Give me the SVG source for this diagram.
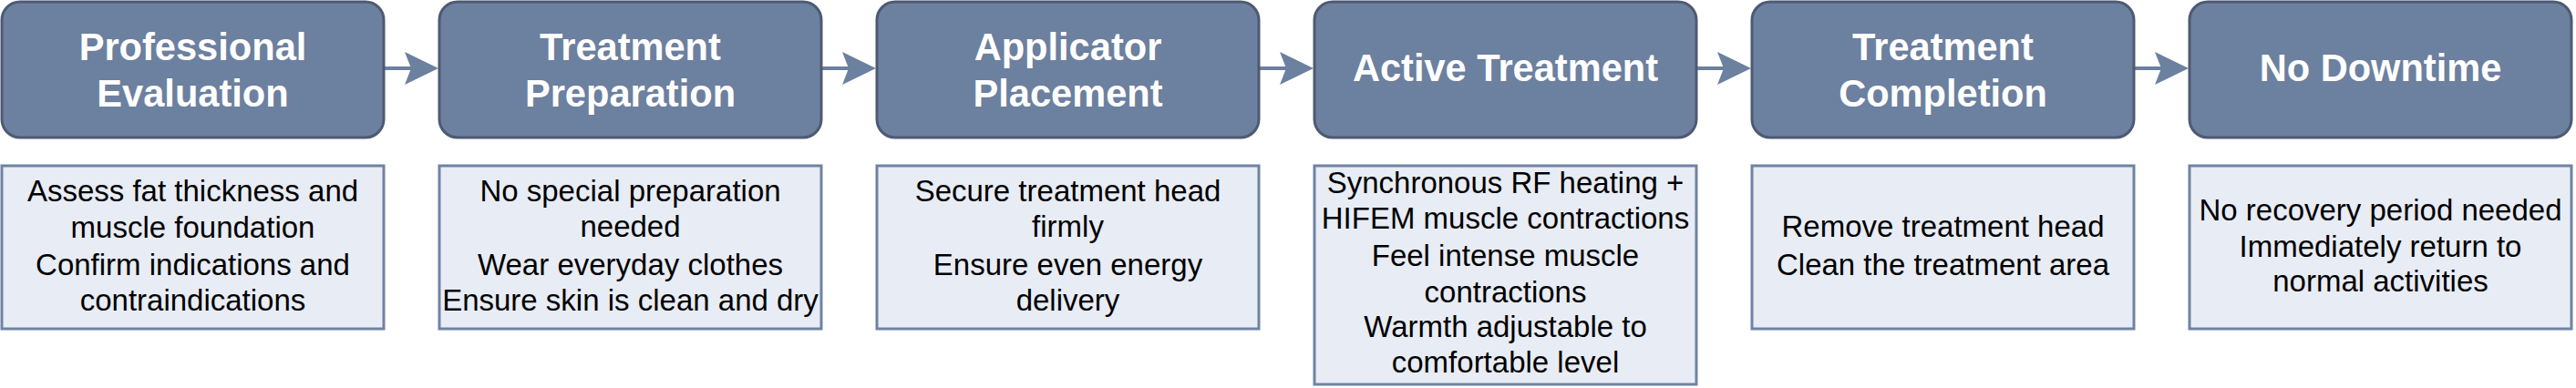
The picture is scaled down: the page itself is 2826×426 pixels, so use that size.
<svg xmlns="http://www.w3.org/2000/svg" width="2826" height="426" viewBox="0 0 2826 426">
<style>
.step{fill:#6c809f;stroke:#4e5a73;stroke-width:3}
.detail{fill:#e8ecf5;stroke:#6f83a3;stroke-width:3}
.t{font-family:"Liberation Sans",Arial,sans-serif;font-weight:bold;font-size:41.6px;fill:#ffffff;text-anchor:middle}
.d{font-family:"Liberation Sans",Arial,sans-serif;font-size:33px;fill:#000000;text-anchor:middle}
.conn{stroke:#6c809f;stroke-width:4;fill:none}
.head{fill:#6c809f;stroke:none}
</style>
<rect width="2826" height="426" fill="#ffffff"/>
<g id="connectors">
<g><line class="conn" x1="422" y1="75" x2="452" y2="75"/><polygon class="head" points="481,75 444,57 451,75 444,93"/></g>
<g><line class="conn" x1="902" y1="75" x2="932" y2="75"/><polygon class="head" points="961,75 924,57 931,75 924,93"/></g>
<g><line class="conn" x1="1382" y1="75" x2="1412" y2="75"/><polygon class="head" points="1441,75 1404,57 1411,75 1404,93"/></g>
<g><line class="conn" x1="1862" y1="75" x2="1892" y2="75"/><polygon class="head" points="1921,75 1884,57 1891,75 1884,93"/></g>
<g><line class="conn" x1="2342" y1="75" x2="2372" y2="75"/><polygon class="head" points="2401,75 2364,57 2371,75 2364,93"/></g>
</g>
<g id="step1">
<rect class="step" x="2" y="2" width="419" height="149" rx="20"/>
<text class="t" x="211.5" y="66">Professional</text>
<text class="t" x="211.5" y="117">Evaluation</text>
</g>
<g id="detail1">
<rect class="detail" x="2" y="182" width="419" height="179"/>
<text class="d" x="211.5" y="221">Assess fat thickness and</text>
<text class="d" x="211.5" y="261">muscle foundation</text>
<text class="d" x="211.5" y="302">Confirm indications and</text>
<text class="d" x="211.5" y="341">contraindications</text>
</g>
<g id="step2">
<rect class="step" x="482" y="2" width="419" height="149" rx="20"/>
<text class="t" x="691.5" y="66">Treatment</text>
<text class="t" x="691.5" y="117">Preparation</text>
</g>
<g id="detail2">
<rect class="detail" x="482" y="182" width="419" height="179"/>
<text class="d" x="691.5" y="221">No special preparation</text>
<text class="d" x="691.5" y="260">needed</text>
<text class="d" x="691.5" y="301.5">Wear everyday clothes</text>
<text class="d" x="691.5" y="340.5">Ensure skin is clean and dry</text>
</g>
<g id="step3">
<rect class="step" x="962" y="2" width="419" height="149" rx="20"/>
<text class="t" x="1171.5" y="66">Applicator</text>
<text class="t" x="1171.5" y="117">Placement</text>
</g>
<g id="detail3">
<rect class="detail" x="962" y="182" width="419" height="179"/>
<text class="d" x="1171.5" y="221">Secure treatment head</text>
<text class="d" x="1171.5" y="260">firmly</text>
<text class="d" x="1171.5" y="301.5">Ensure even energy</text>
<text class="d" x="1171.5" y="340.5">delivery</text>
</g>
<g id="step4">
<rect class="step" x="1442" y="2" width="419" height="149" rx="20"/>
<text class="t" x="1651.5" y="89">Active Treatment</text>
</g>
<g id="detail4">
<rect class="detail" x="1442" y="182" width="419" height="240"/>
<text class="d" x="1651.5" y="212">Synchronous RF heating +</text>
<text class="d" x="1651.5" y="251">HIFEM muscle contractions</text>
<text class="d" x="1651.5" y="291.5">Feel intense muscle</text>
<text class="d" x="1651.5" y="331.5">contractions</text>
<text class="d" x="1651.5" y="370">Warmth adjustable to</text>
<text class="d" x="1651.5" y="409">comfortable level</text>
</g>
<g id="step5">
<rect class="step" x="1922" y="2" width="419" height="149" rx="20"/>
<text class="t" x="2131.5" y="66">Treatment</text>
<text class="t" x="2131.5" y="117">Completion</text>
</g>
<g id="detail5">
<rect class="detail" x="1922" y="182" width="419" height="179"/>
<text class="d" x="2131.5" y="260">Remove treatment head</text>
<text class="d" x="2131.5" y="301.5">Clean the treatment area</text>
</g>
<g id="step6">
<rect class="step" x="2402" y="2" width="419" height="149" rx="20"/>
<text class="t" x="2611.5" y="89">No Downtime</text>
</g>
<g id="detail6">
<rect class="detail" x="2402" y="182" width="419" height="179"/>
<text class="d" x="2611.5" y="241.5">No recovery period needed</text>
<text class="d" x="2611.5" y="281.5">Immediately return to</text>
<text class="d" x="2611.5" y="320">normal activities</text>
</g>
</svg>
